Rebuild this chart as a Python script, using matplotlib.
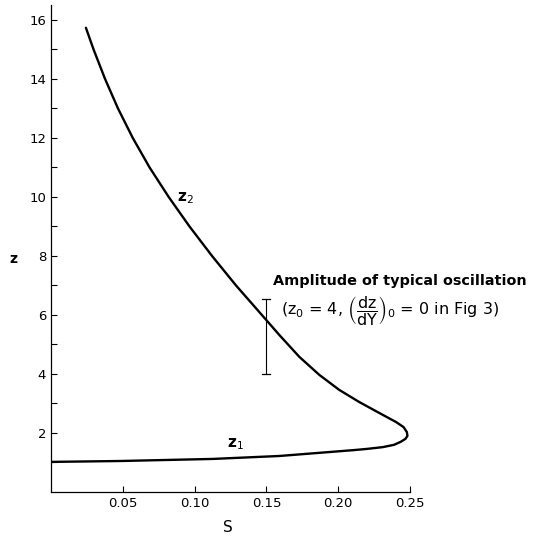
import numpy as np
import matplotlib
matplotlib.use('Agg')
import matplotlib.pyplot as plt

# z vs S curve (upper branch z2 down through the nose to z1)
S_vals = [0.0243, 0.0296, 0.0376, 0.0466, 0.0569, 0.0686, 0.0819, 0.0964,
          0.1121, 0.1288, 0.1468, 0.1590, 0.1729, 0.1868, 0.2007, 0.2146,
          0.2285, 0.2403, 0.2455, 0.2478, 0.2482, 0.2468, 0.2435, 0.2390,
          0.2310, 0.2200, 0.2110, 0.1850, 0.1590, 0.1125, 0.0480, 0.0]
z_vals = [15.73, 15.0, 14.0, 13.0, 12.0, 11.0, 10.0, 9.0,
          8.0, 7.0, 6.0, 5.32, 4.58, 3.97, 3.46, 3.05,
          2.68, 2.37, 2.20, 2.03, 1.90, 1.80, 1.70, 1.60,
          1.52, 1.46, 1.42, 1.32, 1.22, 1.12, 1.05, 1.02]

# oscillation amplitude bar
bar_S = 0.15
bar_low, bar_high = 4.0, 6.55

x_ticks = [0.05, 0.10, 0.15, 0.20, 0.25]
x_labels = ['0.05', '0.10', '0.15', '0.20', '0.25']
y_ticks = [2, 4, 6, 8, 10, 12, 14, 16]

plt.rcParams['font.family'] = ['DejaVu Sans']
plt.rcParams['mathtext.fontset'] = 'dejavusans'

fig = plt.figure(figsize=(5.39, 5.37), dpi=100)
ax = fig.add_axes([0.0946, 0.0838, 0.6661, 0.9069])

ax.plot(S_vals, z_vals, color='black', linewidth=1.7,
        solid_capstyle='round', solid_joinstyle='round')
ax.plot([bar_S, bar_S], [bar_low, bar_high], color='black', linewidth=0.8)
ax.plot([bar_S - 0.0028, bar_S + 0.0028], [bar_low, bar_low], color='black', linewidth=0.9)
ax.plot([bar_S - 0.0028, bar_S + 0.0028], [bar_high, bar_high], color='black', linewidth=0.9)

ax.set_xlim(0, 0.25)
ax.set_ylim(0, 16.5)
ax.set_xticks(x_ticks)
ax.set_xticklabels(x_labels)
ax.set_yticks(y_ticks)
ax.set_yticks(range(1, 17, 2), minor=True)
ax.tick_params(axis='both', direction='in', length=4, width=0.8, labelsize=9.5)
ax.tick_params(axis='y', which='minor', direction='in', length=4, width=0.8)

for side in ['top', 'right']:
    ax.spines[side].set_visible(False)
for side in ['left', 'bottom']:
    ax.spines[side].set_linewidth(0.9)

ax.text(-0.026, 7.9, 'z', fontsize=10, fontweight='bold', ha='center', va='center',
        clip_on=False)
ax.text(0.123, -1.2, 'S', fontsize=11, ha='center', va='center', clip_on=False)

ax.text(0.0935, 9.95, r'$\mathbf{z}_2$', fontsize=11, ha='center', va='center')
ax.text(0.1285, 1.62, r'$\mathbf{z}_1$', fontsize=11, ha='center', va='center')

ax.text(0.1545, 7.15, 'Amplitude of typical oscillation', fontsize=10.4,
        fontweight='bold', ha='left', va='center', clip_on=False)
ax.text(0.1605, 6.15,
        r'(z$_0$ = 4, $\left(\dfrac{\mathrm{dz}}{\mathrm{dY}}\right)_0$ = 0 in Fig 3)',
        fontsize=11.5, ha='left', va='center', clip_on=False)

fig.savefig('out.png', dpi=100)
